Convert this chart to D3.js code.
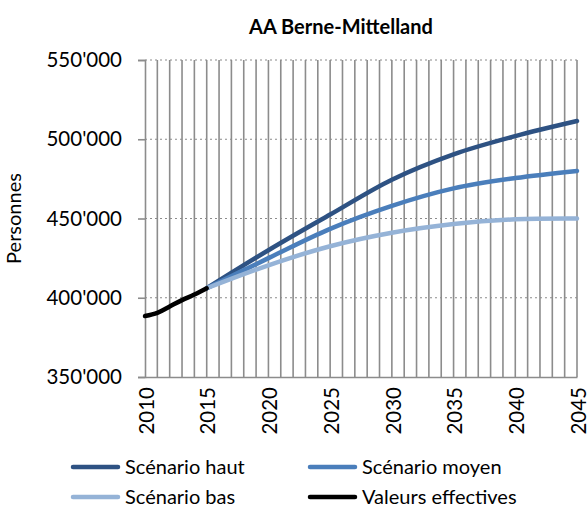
<!DOCTYPE html>
<html>
<head>
<meta charset="utf-8">
<script src="https://cdn.jsdelivr.net/npm/d3@7"></script>
<style>
body { margin: 0; background: #fff; }
svg text { font-family: Lato, "Open Sans", sans-serif; fill: #000; }
</style>
</head>
<body>
<svg width="587" height="510"></svg>
<script>
// données
const projYears = [2015, 2020, 2025, 2030, 2035, 2040, 2045];
const haut = [406000, 430000, 452500, 474500, 490500, 502000, 511500];
const moyen = [406000, 425000, 443500, 458000, 469000, 475500, 480000];
const bas = [406000, 420500, 432500, 441000, 446500, 449500, 450000];
const effYears = [2010, 2011, 2012, 2013, 2014, 2015];
const effectives = [388500, 390500, 394500, 398500, 402000, 406000];
const yTicks = [350000, 400000, 450000, 500000, 550000];
const xTicks = [2010, 2015, 2020, 2025, 2030, 2035, 2040, 2045];

const series = [
    {name: "Scénario haut", years: projYears, values: haut, color: "#2E5283"},
    {name: "Scénario moyen", years: projYears, values: moyen, color: "#4A7EBB"},
    {name: "Scénario bas", years: projYears, values: bas, color: "#95B3D7"},
    {name: "Valeurs effectives", years: effYears, values: effectives, color: "#000000"}
];

const svg = d3.select("svg");
const x0 = 145, x1 = 577, y0 = 60, y1 = 377;

const x = d3.scaleLinear().domain([2010, 2045]).range([x0, x1]);
const y = d3.scaleLinear().domain([350000, 550000]).range([y1, y0]);

// titre
svg.append("text").text("AA Berne-Mittelland")
    .attr("x", 341).attr("y", 34)
    .attr("text-anchor", "middle")
    .attr("font-size", 20).attr("font-weight", "bold");

// quadrillage horizontal (pointillé)
svg.append("g").selectAll("line")
    .data(yTicks.slice(1))
    .join("line")
    .attr("x1", x0).attr("x2", x1)
    .attr("y1", d => y(d)).attr("y2", d => y(d))
    .attr("stroke", "#8c8c8c").attr("stroke-width", 1.2)
    .attr("stroke-dasharray", "2,3");

// quadrillage vertical (chaque année)
svg.append("g").selectAll("line")
    .data(d3.range(2011, 2046))
    .join("line")
    .attr("x1", d => x(d)).attr("x2", d => x(d))
    .attr("y1", y0).attr("y2", y1)
    .attr("stroke", "#8c8c8c").attr("stroke-width", 1.6);

// axe Y
const fmt = d => d3.format(",")(d).replace(/,/g, "'");
const yAxis = svg.append("g")
    .attr("transform", `translate(${x0},0)`)
    .call(d3.axisLeft(y).tickValues(yTicks).tickFormat(fmt).tickSize(7).tickPadding(16));
yAxis.select(".domain").attr("stroke", "#8c8c8c").attr("stroke-width", 1.6);
yAxis.selectAll(".tick line").attr("stroke", "#8c8c8c").attr("stroke-width", 1.6);
yAxis.selectAll("text").attr("font-size", 20.5).style("font-family", "Lato, sans-serif");

// axe X
const xAxis = svg.append("g")
    .attr("transform", `translate(0,${y1})`)
    .call(d3.axisBottom(x).tickValues(xTicks).tickFormat(d3.format("d")).tickSize(0));
xAxis.select(".domain").attr("stroke", "#8c8c8c").attr("stroke-width", 1.6);
xAxis.selectAll("text")
    .attr("font-size", 20.5).style("font-family", "Lato, sans-serif")
    .attr("transform", "rotate(-90)")
    .attr("text-anchor", "end")
    .attr("x", -10).attr("y", 1).attr("dy", "0.35em");

// titre axe Y
svg.append("text").text("Personnes")
    .attr("transform", `translate(14,${(y0 + y1) / 2}) rotate(-90)`)
    .attr("text-anchor", "middle")
    .attr("dy", "0.35em")
    .attr("font-size", 20);

// courbes
const line = d3.line()
    .x(d => x(d[0])).y(d => y(d[1]))
    .curve(d3.curveCatmullRom);

svg.append("g").selectAll("path")
    .data(series)
    .join("path")
    .attr("d", s => line(s.years.map((yr, i) => [yr, s.values[i]])))
    .attr("fill", "none")
    .attr("stroke", s => s.color)
    .attr("stroke-width", 4.5)
    .attr("stroke-linecap", "round");

// légende
const legPos = [[73, 467], [310, 467], [73, 497], [310, 497]];
const leg = svg.append("g").selectAll("g")
    .data(series)
    .join("g")
    .attr("transform", (d, i) => `translate(${legPos[i][0]},${legPos[i][1]})`);
leg.append("line")
    .attr("x1", 0).attr("x2", 45).attr("y1", 0).attr("y2", 0)
    .attr("stroke", d => d.color).attr("stroke-width", 4.5)
    .attr("stroke-linecap", "round");
leg.append("text").text(d => d.name)
    .attr("x", 52).attr("y", 0).attr("dy", "0.35em")
    .attr("font-size", 20);
</script>
</body>
</html>
